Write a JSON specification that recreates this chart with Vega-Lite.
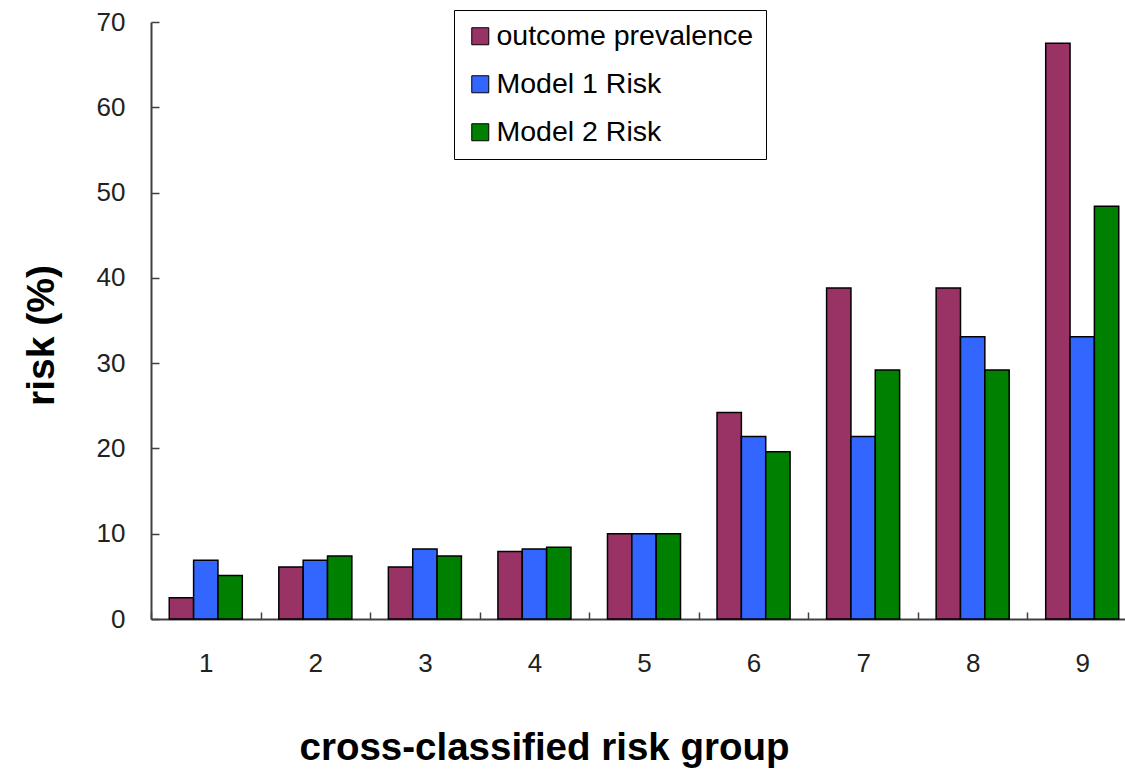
{
  "$schema": "https://vega.github.io/schema/vega-lite/v6.json",
  "autosize": {"type": "none"},
  "padding": {"left": 151, "top": 22, "right": 0, "bottom": 151},
  "width": 974,
  "height": 597,
  "background": "white",
  "config": {
    "font": "Liberation Sans",
    "view": {"stroke": null}
  },
  "data": {
    "values": [
      {"group": "1", "series": "outcome prevalence", "risk": 2.5},
      {"group": "1", "series": "Model 1 Risk", "risk": 6.9},
      {"group": "1", "series": "Model 2 Risk", "risk": 5.1},
      {"group": "2", "series": "outcome prevalence", "risk": 6.1},
      {"group": "2", "series": "Model 1 Risk", "risk": 6.9},
      {"group": "2", "series": "Model 2 Risk", "risk": 7.4},
      {"group": "3", "series": "outcome prevalence", "risk": 6.1},
      {"group": "3", "series": "Model 1 Risk", "risk": 8.2},
      {"group": "3", "series": "Model 2 Risk", "risk": 7.4},
      {"group": "4", "series": "outcome prevalence", "risk": 7.9},
      {"group": "4", "series": "Model 1 Risk", "risk": 8.2},
      {"group": "4", "series": "Model 2 Risk", "risk": 8.4},
      {"group": "5", "series": "outcome prevalence", "risk": 10.0},
      {"group": "5", "series": "Model 1 Risk", "risk": 10.0},
      {"group": "5", "series": "Model 2 Risk", "risk": 10.0},
      {"group": "6", "series": "outcome prevalence", "risk": 24.2},
      {"group": "6", "series": "Model 1 Risk", "risk": 21.4},
      {"group": "6", "series": "Model 2 Risk", "risk": 19.6},
      {"group": "7", "series": "outcome prevalence", "risk": 38.8},
      {"group": "7", "series": "Model 1 Risk", "risk": 21.4},
      {"group": "7", "series": "Model 2 Risk", "risk": 29.2},
      {"group": "8", "series": "outcome prevalence", "risk": 38.8},
      {"group": "8", "series": "Model 1 Risk", "risk": 33.1},
      {"group": "8", "series": "Model 2 Risk", "risk": 29.2},
      {"group": "9", "series": "outcome prevalence", "risk": 67.5},
      {"group": "9", "series": "Model 1 Risk", "risk": 33.1},
      {"group": "9", "series": "Model 2 Risk", "risk": 48.4}
    ]
  },
  "mark": {"type": "bar", "stroke": "black", "strokeWidth": 1.5},
  "encoding": {
    "x": {
      "field": "group",
      "type": "ordinal",
      "scale": {"paddingInner": 0, "paddingOuter": 0, "range": [0, 986]},
      "axis": {
        "title": "cross-classified risk group",
        "titleFont": "Liberation Sans",
        "titleFontSize": 38.5,
        "titleFontWeight": "bold",
        "titleColor": "black",
        "titlePadding": 53,
        "titleX": 393,
        "titleAnchor": "middle",
        "titleAlign": "center",
        "labelAngle": 0,
        "labelFontSize": 26,
        "labelColor": "#222",
        "labelPadding": 38,
        "tickBand": "extent",
        "tickSize": -7,
        "tickColor": "#404040",
        "tickWidth": 1.5,
        "domainColor": "#404040",
        "domainWidth": 2
      }
    },
    "xOffset": {
      "field": "series",
      "type": "nominal",
      "sort": ["outcome prevalence", "Model 1 Risk", "Model 2 Risk"],
      "scale": {"paddingInner": 0, "paddingOuter": 0.75}
    },
    "y": {
      "field": "risk",
      "type": "quantitative",
      "scale": {"domain": [0, 70], "nice": false},
      "axis": {
        "title": "risk (%)",
        "titleFontSize": 39,
        "titleFontWeight": "bold",
        "titleColor": "black",
        "titlePadding": 35,
        "titleY": 313,
        "titleAnchor": "middle",
        "titleAlign": "center",
        "values": [0, 10, 20, 30, 40, 50, 60, 70],
        "labelFontSize": 26,
        "labelColor": "#222",
        "labelPadding": 34,
        "tickSize": -8,
        "tickColor": "#404040",
        "tickWidth": 1.5,
        "domainColor": "#404040",
        "domainWidth": 2,
        "grid": false
      }
    },
    "color": {
      "field": "series",
      "type": "nominal",
      "scale": {
        "domain": ["outcome prevalence", "Model 1 Risk", "Model 2 Risk"],
        "range": ["#993366", "#3366FF", "#008000"]
      },
      "legend": {
        "title": null,
        "orient": "none",
        "legendX": 303,
        "legendY": -12,
        "direction": "vertical",
        "strokeColor": "black",
        "fillColor": "white",
        "padding": 12,
        "symbolType": "square",
        "symbolSize": 289,
        "symbolStrokeColor": "black",
        "symbolStrokeWidth": 1,
        "symbolOpacity": 1,
        "labelFontSize": 28.5,
        "labelColor": "black",
        "labelOffset": 2,
        "rowPadding": 19,
        "labelLimit": 400
      }
    }
  }
}
